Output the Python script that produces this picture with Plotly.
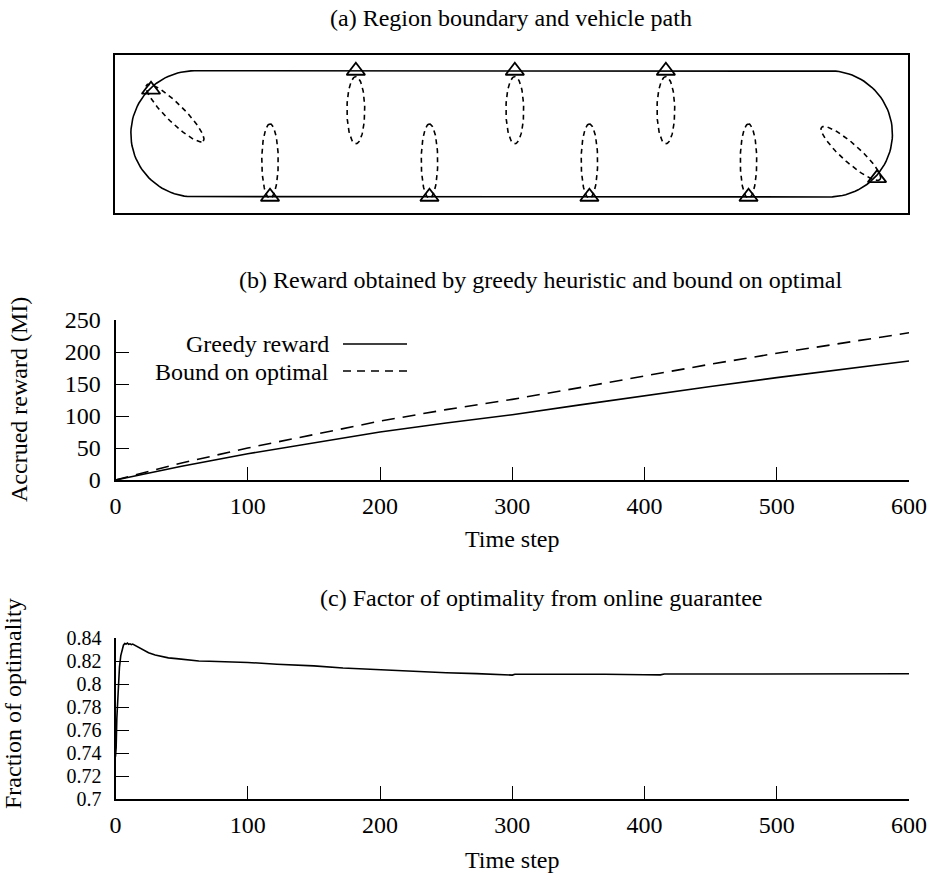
import numpy as np
import plotly.graph_objects as go

W, H = 931, 882
FONT = "Liberation Serif"
FS = 24
FS_FRAC_TICKS = 20

# ---------------- Panel (a): region boundary and vehicle path ----------------
path_radius = 0.4
path_left_cx = 0.5
path_right_cx = 4.5
path_cy = 0.5
veh_x = [0.227, 0.977, 1.518, 1.982, 2.52, 2.99, 3.472, 3.993, 4.803]
veh_y = [0.780, 0.101, 0.900, 0.101, 0.900, 0.101, 0.900, 0.101, 0.219]
ell_cx = [0.378, 0.977, 1.518, 1.982, 2.52, 2.99, 3.472, 3.993, 4.638]
ell_cy = [0.632, 0.327, 0.650, 0.327, 0.650, 0.327, 0.650, 0.327, 0.376]
ell_a = [0.252, 0.236, 0.213, 0.236, 0.213, 0.236, 0.213, 0.236, 0.248]
ell_b = [0.057, 0.052, 0.056, 0.052, 0.056, 0.052, 0.056, 0.052, 0.057]
ell_angle = [-45, 90, 90, 90, 90, 90, 90, 90, -42]

# ---------------- Panel (b): accrued reward ----------------
t_reward = [0, 10, 25, 50, 100, 150, 200, 250, 300, 350, 400, 450, 500, 550, 600]
greedy_reward = [0, 4.5, 11, 21.5, 41, 58, 75, 89, 102, 117, 132, 146, 160, 173, 186]
bound_optimal = [0, 5.5, 13.5, 26.5, 50, 71, 92, 110, 126, 144, 163, 181, 198, 214, 230]

# ---------------- Panel (c): fraction of optimality ----------------
t_frac = [0, 0.5, 1, 2, 3, 4, 5, 6, 7, 8, 9, 10, 11, 12, 13, 15, 18, 21, 25, 30,
          35, 40, 46, 55, 63, 71, 85, 100, 122, 140, 150, 172, 200, 223, 250, 273,
          290, 300, 302, 330, 370, 400, 410, 412, 415, 450, 500, 550, 600]
frac_opt = [0.737, 0.745, 0.770, 0.800, 0.815, 0.825, 0.830, 0.834, 0.8355, 0.835,
            0.8358, 0.8348, 0.8352, 0.8345, 0.8350, 0.8338, 0.8318, 0.8296, 0.8275,
            0.8255, 0.8240, 0.8230, 0.8223, 0.8210, 0.8203, 0.8200, 0.8195, 0.8190,
            0.8175, 0.8168, 0.8160, 0.8142, 0.8125, 0.8113, 0.8100, 0.8093, 0.8085,
            0.8080, 0.8087, 0.8088, 0.8087, 0.8083, 0.8081, 0.8082, 0.8089, 0.8090,
            0.8090, 0.8090, 0.8092]

x_ticks = [0, 100, 200, 300, 400, 500, 600]
reward_ticks = [0, 50, 100, 150, 200, 250]
frac_ticks = [0.7, 0.72, 0.74, 0.76, 0.78, 0.8, 0.82, 0.84]
frac_tick_text = ["0.7", "0.72", "0.74", "0.76", "0.78", "0.8", "0.82", "0.84"]

titles = ["(a) Region boundary and vehicle path",
          "(b) Reward obtained by greedy heuristic and bound on optimal",
          "(c) Factor of optimality from online guarantee"]


def px(x):
    return x / W


def py(y):
    return 1 - y / H


fig = go.Figure()

# stadium-shaped path
n = 60
th_r = np.linspace(np.pi / 2, -np.pi / 2, n)
th_l = np.linspace(3 * np.pi / 2, np.pi / 2, n)
sx = np.concatenate([[path_left_cx, path_right_cx],
                     path_right_cx + path_radius * np.cos(th_r),
                     [path_left_cx],
                     path_left_cx + path_radius * np.cos(th_l)])
sy = np.concatenate([[path_cy + path_radius] * 2,
                     path_cy + path_radius * np.sin(th_r),
                     [path_cy - path_radius],
                     path_cy + path_radius * np.sin(th_l)])
fig.add_trace(go.Scatter(x=sx, y=sy, mode="lines", xaxis="x3", yaxis="y3",
                         line=dict(color="black", width=1.6), showlegend=False,
                         hoverinfo="skip"))

# sensing ellipses
tt = np.linspace(0, 2 * np.pi, 120)
for cx, cy, a, b, ang in zip(ell_cx, ell_cy, ell_a, ell_b, ell_angle):
    phi = np.deg2rad(ang)
    ex = cx + a * np.cos(tt) * np.cos(phi) - b * np.sin(tt) * np.sin(phi)
    ey = cy + a * np.cos(tt) * np.sin(phi) + b * np.sin(tt) * np.cos(phi)
    fig.add_trace(go.Scatter(x=ex, y=ey, mode="lines", xaxis="x3", yaxis="y3",
                             line=dict(color="black", width=1.6, dash="5px,4px"),
                             showlegend=False, hoverinfo="skip"))

# vehicle positions
fig.add_trace(go.Scatter(x=veh_x, y=veh_y, mode="markers", xaxis="x3", yaxis="y3",
                         marker=dict(symbol="triangle-up-open", size=16,
                                     color="black", line=dict(width=1.8)),
                         showlegend=False, hoverinfo="skip"))

# panel (b)
fig.add_trace(go.Scatter(x=t_reward, y=greedy_reward, mode="lines", xaxis="x2", yaxis="y2",
                         line=dict(color="black", width=1.6), name="Greedy reward",
                         showlegend=False))
fig.add_trace(go.Scatter(x=t_reward, y=bound_optimal, mode="lines", xaxis="x2", yaxis="y2",
                         line=dict(color="black", width=1.6, dash="13px,8px"),
                         name="Bound on optimal", showlegend=False))

# panel (c)
fig.add_trace(go.Scatter(x=t_frac, y=frac_opt, mode="lines", xaxis="x", yaxis="y",
                         line=dict(color="black", width=1.6), showlegend=False))

xdom = [px(115.5), px(909)]
axis_common = dict(showgrid=False, zeroline=False, showline=True, linecolor="black",
                   linewidth=2, ticks="inside", ticklen=13, tickwidth=1.3,
                   tickcolor="black", automargin=False)
box_common = dict(showgrid=False, zeroline=False, showticklabels=False, ticks="",
                  showline=True, mirror=True, linecolor="black", linewidth=2,
                  automargin=False)
tfont = dict(family=FONT, size=FS, color="black")

fig.update_layout(
    template="none",
    width=W, height=H,
    margin=dict(l=0, r=0, t=0, b=0, pad=0),
    paper_bgcolor="white", plot_bgcolor="white",
    font=dict(family=FONT, size=FS, color="black"),
    showlegend=False,
    xaxis3=dict(domain=[px(115), px(908.3)], range=[0, 5], anchor="y3", **box_common),
    yaxis3=dict(domain=[py(212.7), py(55)], range=[0, 1], anchor="x3", **box_common),
    xaxis2=dict(domain=xdom, range=[0, 600], anchor="y2", tickvals=x_ticks,
                ticklabelstandoff=3, tickfont=tfont, **axis_common),
    yaxis2=dict(domain=[py(480), py(320)], range=[0, 250], anchor="x2",
                tickvals=reward_ticks, ticklabelstandoff=8, tickfont=tfont,
                **axis_common),
    xaxis=dict(domain=xdom, range=[0, 600], anchor="y", tickvals=x_ticks,
               ticklabelstandoff=3, tickfont=tfont, **axis_common),
    yaxis=dict(domain=[py(799.3), py(638.3)], range=[0.7, 0.84], anchor="x",
               tickvals=frac_ticks, ticktext=frac_tick_text, ticklabelstandoff=8,
               tickfont=dict(family=FONT, size=FS_FRAC_TICKS, color="black"),
               **axis_common),
)

ann = []
ann.append(dict(text=titles[0], x=px(511), y=py(18)))
ann.append(dict(text=titles[1], x=px(541), y=py(280)))
ann.append(dict(text=titles[2], x=px(541), y=py(598)))
ann.append(dict(text="Time step", x=px(512), y=py(539)))
ann.append(dict(text="Time step", x=px(512), y=py(860)))
ann.append(dict(text="Accrued reward (MI)", x=px(19), y=py(400), textangle=-90))
ann.append(dict(text="Fraction of optimality", x=px(13), y=py(704), textangle=-90))
ann.append(dict(text="Greedy reward", x=px(331), y=py(344), xanchor="right"))
ann.append(dict(text="Bound on optimal", x=px(331), y=py(372), xanchor="right"))
for a in ann:
    a.setdefault("xanchor", "center")
    a.update(xref="paper", yref="paper", yanchor="middle", showarrow=False,
             font=dict(family=FONT, size=FS, color="black"))
fig.update_layout(annotations=ann)

fig.update_layout(shapes=[
    dict(type="line", xref="paper", yref="paper", x0=px(343), x1=px(407),
         y0=py(344), y1=py(344), line=dict(color="black", width=1.6)),
    dict(type="line", xref="paper", yref="paper", x0=px(343), x1=px(407),
         y0=py(371), y1=py(371), line=dict(color="black", width=1.6, dash="8px,6px")),
])

fig.write_html("out.html")
